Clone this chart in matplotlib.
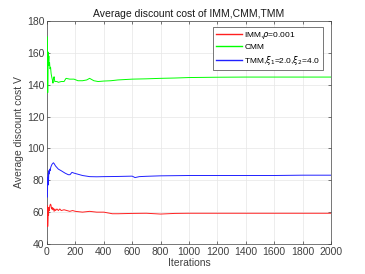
import matplotlib
matplotlib.use("Agg")
import matplotlib.pyplot as plt

# values (iteration, average discount cost)
imm_x = [3, 5, 7, 9, 11, 13, 16, 20, 24, 28, 32, 36, 40, 45, 50, 55, 60, 70, 80, 90, 100, 120,
         140, 160, 180, 200, 250, 300, 350, 400, 430, 460, 500, 600, 700, 800, 900, 1000,
         1200, 1400, 1600, 1800, 2000]
imm_y = [64, 51, 56, 62, 58, 63, 61, 64, 65, 64.5, 62, 63, 61.5, 62.5, 60.5, 62, 61, 62, 61,
         62, 61, 61.5, 61, 60.5, 61, 60.5, 60, 60.5, 60, 60, 59.5, 59, 59, 59.2, 59.3, 58.8,
         59.2, 59.3, 59.3, 59.3, 59.3, 59.3, 59.3]

cmm_x = [3, 5, 7, 9, 11, 13, 15, 18, 21, 25, 29, 33, 38, 42, 46, 50, 55, 60, 70, 80, 100, 120,
         134, 160, 190, 218, 250, 280, 300, 330, 360, 400, 450, 500, 600, 700, 800, 900, 1000,
         1200, 1400, 1600, 1800, 2000]
cmm_y = [170, 135, 150, 160.5, 155, 158, 152, 154, 150, 151, 147, 145, 143, 141, 144, 145, 142,
         142, 142, 141.5, 142, 142, 144, 143.5, 143.5, 142.5, 142.5, 143, 144, 142.5, 142,
         142.3, 142.5, 143, 143.5, 143.7, 144, 144.2, 144.5, 144.7, 144.8, 144.8, 144.8, 144.8]

tmm_x = [3, 5, 7, 9, 11, 13, 15, 18, 22, 26, 30, 35, 40, 45, 50, 60, 70, 80, 100, 127, 150,
         162, 176, 190, 210, 250, 300, 350, 400, 500, 600, 620, 650, 700, 800, 1000, 1200,
         1400, 1600, 1800, 2000]
tmm_y = [69.5, 82, 77, 84.5, 80, 86, 84, 87, 86, 88, 89, 90, 90.5, 91, 90.5, 89, 88, 87, 86,
         84.5, 83.5, 83.5, 85, 84.5, 84, 83, 82.3, 82.2, 82.3, 82.4, 82.6, 81.7, 82.3, 82.5,
         82.8, 83, 83, 83, 83, 83.2, 83.2]

plt.rcParams['font.family'] = ['Liberation Sans', 'DejaVu Sans']
plt.rcParams['mathtext.fontset'] = 'dejavusans'

fig = plt.figure(figsize=(3.65, 2.74), dpi=100)
ax = fig.add_axes([47 / 365, 1 - 244 / 274, 284 / 365, 223 / 274])

ax.plot(imm_x, imm_y, color='#ff2020', lw=0.7, label=r'IMM,$\rho$=0.001', zorder=3)
ax.plot(cmm_x, cmm_y, color='#00ff00', lw=0.7, label='CMM', zorder=3)
ax.plot(tmm_x, tmm_y, color='#2020ff', lw=0.7, label=r'TMM,$\xi_1$=2.0,$\xi_2$=4.0', zorder=3)

ax.set_xlim(0, 2000)
ax.set_ylim(40, 180)
ax.set_xticks(range(0, 2001, 200))
ax.set_yticks(range(40, 181, 20))
ax.grid(True, color='#e6e6e6', lw=0.5)
ax.set_axisbelow(True)
ax.tick_params(direction='in', length=2.5, width=0.5, labelsize=7.5, colors='#404040',
               top=True, right=True, pad=2)
for s in ax.spines.values():
    s.set_color('#404040')
    s.set_linewidth(0.5)
    s.set_zorder(2)

ax.set_title('Average discount cost of IMM,CMM,TMM', fontsize=7.5, color='#1a1a1a', pad=3)
ax.set_xlabel('Iterations', fontsize=7.5, color='#404040', labelpad=1)
ax.set_ylabel('Average discount cost V', fontsize=7.5, color='#404040', labelpad=2)

leg = ax.legend(loc='upper right', fontsize=6, fancybox=False, framealpha=1,
                edgecolor='#404040', borderpad=0.35, labelspacing=0.3, handlelength=3.1,
                handletextpad=0.3, borderaxespad=0, bbox_to_anchor=(0.972, 0.973))
leg.get_frame().set_linewidth(0.5)
for line in leg.get_lines():
    line.set_linewidth(1.0)

fig.savefig('out.png', dpi=100)
